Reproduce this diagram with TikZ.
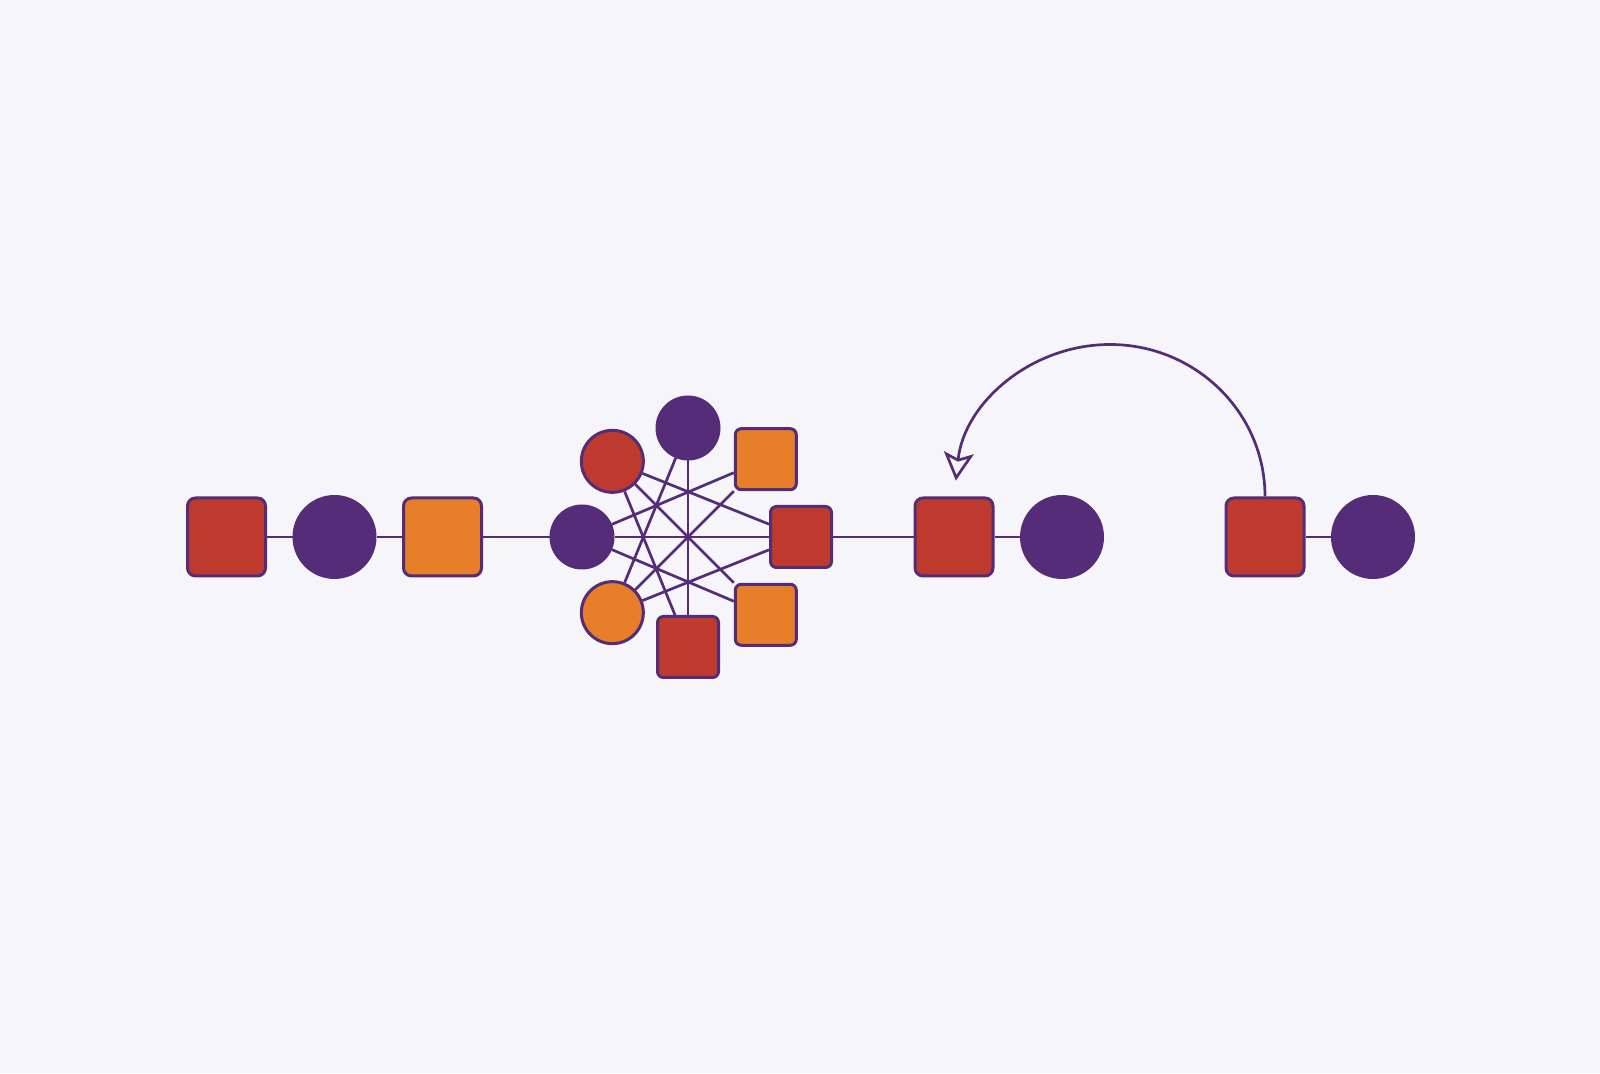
\documentclass[tikz,border=0pt]{standalone}
\usetikzlibrary{arrows.meta}
\definecolor{bg}{RGB}{246,246,250}
\definecolor{plum}{RGB}{84,44,120}
\definecolor{brick}{RGB}{190,58,46}
\definecolor{amber}{RGB}{230,126,42}
\begin{document}
\begin{tikzpicture}[x=1pt, y=1pt, node distance=108pt,
    box/.style={rectangle, rounded corners=8pt, draw=plum, line width=3pt, minimum size=78pt, inner sep=0pt},
    dot/.style={circle, draw=plum, fill=plum, line width=3pt, minimum size=81pt, inner sep=0pt},
    smbox/.style={box, rounded corners=6pt, minimum size=61pt},
    smdot/.style={dot, minimum size=62pt},
    link/.style={draw=plum, line width=2.7pt}]
    \fill[bg] (0,0) rectangle (1600,1073);
    \useasboundingbox (0,0) rectangle (1600,1073);
    % left chain
    \node[box, fill=brick] (A) at (226.5,536) {};
    \node[dot] (B) [right of=A] {};
    \node[box, fill=amber] (C) [right of=B] {};
    % cluster
    \begin{scope}[shift={(688,536)}]
        \node[smbox, fill=brick] (E) at (0:113) {};
        \node[smbox, fill=amber] (NE) at (45:110) {};
        \node[smdot] (N) at (90:109) {};
        \node[smdot, fill=brick] (NW) at (135:107) {};
        \node[smdot] (W) at (180:106) {};
        \node[smdot, fill=amber] (SW) at (225:107) {};
        \node[smbox, fill=brick] (S) at (270:110) {};
        \node[smbox, fill=amber] (SE) at (315:110) {};
    \end{scope}
    % right chain
    \node[box, fill=brick] (F) at (954,536) {};
    \node[dot] (G) [right of=F] {};
    \node[box, fill=brick] (H) at (1265,536) {};
    \node[dot] (J) [right of=H] {};
    \foreach \a/\b in {A/B, B/C, C/W, E/F, F/G, H/J,
        E/W, NE/SW, N/S, NW/SE, E/NW, NW/S, NE/W, W/SE, N/SW, SW/E}
        \draw[link] (\a) -- (\b);
    \draw[link, -{Stealth[open, length=28pt, width=30pt, inset=6pt]}]
        (H.north) arc[start angle=0, end angle=174, x radius=155, y radius=152];
\end{tikzpicture}
\end{document}
